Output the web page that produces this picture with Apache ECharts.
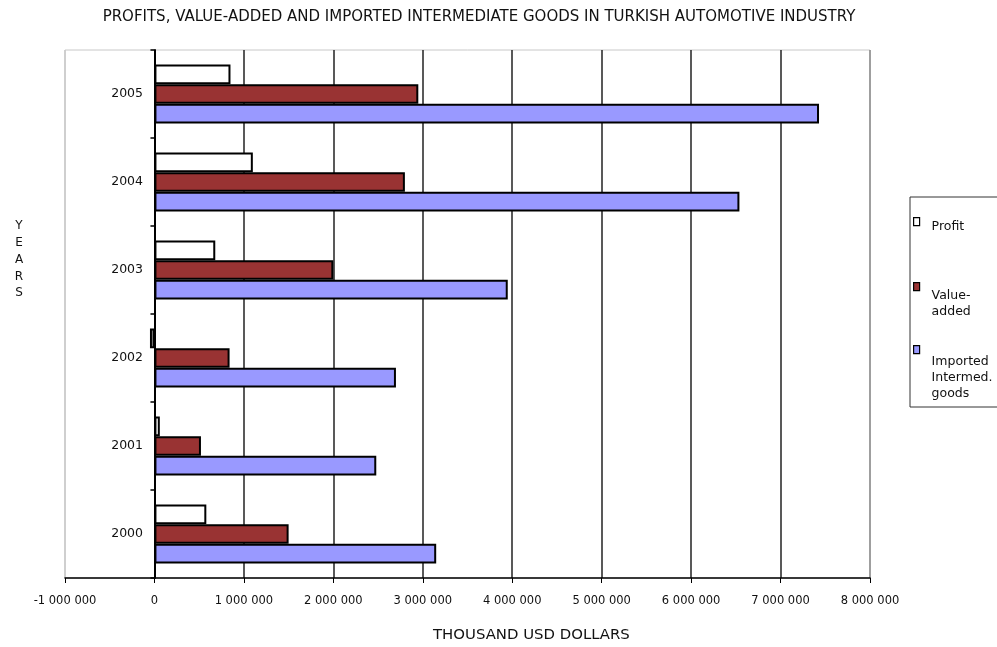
<!DOCTYPE html>
<html>
<head>
<meta charset="utf-8">
<script src="https://cdn.jsdelivr.net/npm/echarts@6/dist/echarts.min.js"></script>
<style>
html,body{margin:0;padding:0;background:#fff;}
#chart{width:997px;height:647px;}
</style>
</head>
<body>
<div id="chart"></div>
<script>
var years = ['2000', '2001', '2002', '2003', '2004', '2005'];
var profit = [580000, 60000, -50000, 680000, 1100000, 850000];
var valueAdded = [1500000, 520000, 840000, 2000000, 2800000, 2950000];
var imported = [3150000, 2480000, 2700000, 3950000, 6540000, 7430000];
var xTicks = [-1000000, 0, 1000000, 2000000, 3000000, 4000000, 5000000, 6000000, 7000000, 8000000];
var seriesNames = ['Profit', 'Value-added', 'Imported Intermed. goods'];
var legendLabels = ['Profit', 'Value-\nadded', 'Imported\nIntermed.\ngoods'];

function fmt(v) {
  var s = Math.abs(v).toString().replace(/\B(?=(\d{3})+(?!\d))/g, ' ');
  return (v < 0 ? '-' : '') + s;
}

var font = 'DejaVu Sans, Verdana, sans-serif';
var chart = echarts.init(document.getElementById('chart'));

// marker sits at top of the icon box; the text block is centred lower
function legendAt(idx, top, boxH) {
  return {
    show: true,
    orient: 'vertical',
    left: 913,
    top: top,
    padding: 0,
    itemWidth: 6,
    itemHeight: boxH,
    icon: 'path://M0,0h6v8h-6z M0,' + boxH,
    selectedMode: false,
    data: [seriesNames[idx]],
    formatter: function () { return legendLabels[idx]; },
    itemStyle: { borderColor: '#000', borderWidth: 1.2 },
    textStyle: { fontFamily: font, fontSize: 12.5, color: '#111', lineHeight: 16, padding: [0, 0, 0, 7] }
  };
}

var splitColors = ['#c8c8c8', '#222', '#222', '#222', '#222', '#222', '#222', '#222', '#222', '#888'];

chart.setOption({
  animation: false,
  backgroundColor: '#fff',
  title: {
    text: 'PROFITS, VALUE-ADDED AND IMPORTED INTERMEDIATE GOODS IN TURKISH AUTOMOTIVE INDUSTRY',
    left: 474,
    top: 5,
    textAlign: 'center',
    textStyle: { fontFamily: font, fontSize: 15, fontWeight: 'normal', color: '#111' }
  },
  legend: [
    legendAt(0, 217, 18),
    legendAt(1, 282, 42),
    legendAt(2, 345, 65)
  ],
  graphic: [
    { type: 'rect', shape: { x: 910, y: 197, width: 120, height: 210 }, style: { fill: 'none', stroke: '#333', lineWidth: 1 }, z: -1 },
    { type: 'text', left: 433, top: 628, style: { text: 'THOUSAND USD DOLLARS', font: '14.9px ' + font, fill: '#111' } },
    { type: 'text', x: 19, y: 218, style: { text: 'Y\nE\nA\nR\nS', font: '12px ' + font, fill: '#111', align: 'center', lineHeight: 16.7 } }
  ],
  grid: {
    left: 65, right: 127, top: 50, bottom: 69,
    outerBoundsMode: 'none',
    show: true, borderColor: '#c8c8c8', borderWidth: 1, containLabel: false
  },
  xAxis: {
    type: 'value',
    min: xTicks[0],
    max: xTicks[xTicks.length - 1],
    interval: 1000000,
    axisLine: { show: true, onZero: false, lineStyle: { color: '#000', width: 1.5 } },
    axisTick: { show: true, length: 5, lineStyle: { color: '#000', width: 1 } },
    axisLabel: { margin: 17, fontFamily: font, fontSize: 11.5, color: '#111', formatter: fmt },
    splitLine: { show: true, showMinLine: true, showMaxLine: true, lineStyle: { color: splitColors, width: 1.5 } }
  },
  yAxis: {
    type: 'category',
    data: years,
    axisLine: { show: true, onZero: true, lineStyle: { color: '#000', width: 2 } },
    axisTick: { show: true, length: 4, lineStyle: { color: '#000', width: 1.5 } },
    axisLabel: { margin: -78, fontFamily: font, fontSize: 12.5, color: '#111', padding: [4, 0, 0, 0] },
    splitLine: { show: false }
  },
  series: [
    {
      name: seriesNames[0], type: 'bar', data: profit,
      barGap: '0%', barCategoryGap: '33%',
      itemStyle: { color: '#ffffff', borderColor: '#000', borderWidth: 2 }
    },
    {
      name: seriesNames[1], type: 'bar', data: valueAdded,
      barGap: '0%', barCategoryGap: '33%',
      itemStyle: { color: '#993333', borderColor: '#000', borderWidth: 2 }
    },
    {
      name: seriesNames[2], type: 'bar', data: imported,
      barGap: '0%', barCategoryGap: '33%',
      itemStyle: { color: '#9999ff', borderColor: '#000', borderWidth: 2 }
    }
  ]
});
</script>
</body>
</html>
